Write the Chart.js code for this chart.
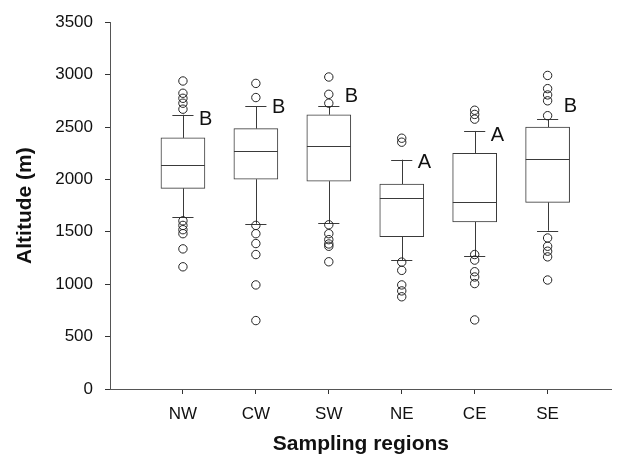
<!DOCTYPE html>
<html>
<head>
<meta charset="utf-8">
<script src="https://cdn.jsdelivr.net/npm/chart.js@4/dist/chart.umd.min.js"></script>
<style>
  html, body { margin: 0; padding: 0; background: #fff; }
  #wrap { width: 617px; height: 457px; }
</style>
</head>
<body>
<div id="wrap"><canvas id="box-chart" width="617" height="457"></canvas></div>
<script>
// Altitude by sampling region (box plot summary)
const regions = ['NW', 'CW', 'SW', 'NE', 'CE', 'SE'];
const lowerWhisker = [1640, 1577, 1583, 1230, 1268, 1510];
const q1 = [1915, 2002, 1983, 1454, 1595, 1781];
const median = [2141, 2267, 2321, 1822, 1781, 2191];
const q3 = [2396, 2485, 2617, 1955, 2248, 2500];
const upperWhisker = [2617, 2696, 2696, 2188, 2462, 2576];
const outliers = [
    [2939, 2822, 2774, 2727, 2670, 1605, 1561, 1520, 1482, 1337, 1166],
    [2916, 2781, 1561, 1482, 1388, 1283, 993, 653],
    [2977, 2812, 2727, 1567, 1482, 1425, 1384, 1362, 1214],
    [2393, 2355, 1211, 1132, 993, 936, 880],
    [2660, 2620, 2575, 1283, 1230, 1119, 1069, 1006, 659],
    [2992, 2866, 2806, 2750, 2608, 1441, 1362, 1315, 1261, 1040],
];
const groupLetters = ['B', 'B', 'B', 'A', 'A', 'B'];
const letterAltitude = [2573, 2686, 2790, 2157, 2421, 2691];
const yTicks = [0, 500, 1000, 1500, 2000, 2500, 3000, 3500];

(function () {
    const FONT = '"Liberation Sans", Arial, sans-serif';
    const ink = '#3a3a3a';
    const axisGray = '#555';
    const pos = regions.map((_, i) => i + 1);

    const boxData = pos.map((x, i) => ({ x: x, y: [q1[i], q3[i]] }));
    const outlierData = [];
    outliers.forEach((list, i) => list.forEach((v) => outlierData.push({ x: pos[i], y: v })));

    // whiskers + caps behind the boxes, medians and group letters on top
    const whiskerPlugin = {
        id: 'whiskers',
        beforeDatasetsDraw(chart) {
            const { ctx, scales: { x, y } } = chart;
            const capHalf = 0.145;
            ctx.save();
            ctx.strokeStyle = ink;
            ctx.lineWidth = 1;
            pos.forEach((p, i) => {
                const cx = Math.round(x.getPixelForValue(p)) + 0.5;
                const top = y.getPixelForValue(upperWhisker[i]);
                const bot = y.getPixelForValue(lowerWhisker[i]);
                ctx.beginPath();
                ctx.moveTo(cx, y.getPixelForValue(q3[i]));
                ctx.lineTo(cx, top);
                ctx.moveTo(cx, y.getPixelForValue(q1[i]));
                ctx.lineTo(cx, bot);
                const l = x.getPixelForValue(p - capHalf), r = x.getPixelForValue(p + capHalf);
                ctx.moveTo(l, Math.round(top) + 0.5);
                ctx.lineTo(r, Math.round(top) + 0.5);
                ctx.moveTo(l, Math.round(bot) + 0.5);
                ctx.lineTo(r, Math.round(bot) + 0.5);
                ctx.stroke();
            });
            ctx.restore();
        },
        afterDatasetsDraw(chart) {
            const { ctx, scales: { x, y } } = chart;
            ctx.save();
            ctx.strokeStyle = ink;
            ctx.lineWidth = 1;
            pos.forEach((p, i) => {
                const my = Math.round(y.getPixelForValue(median[i])) + 0.5;
                ctx.beginPath();
                ctx.moveTo(x.getPixelForValue(p - 0.3), my);
                ctx.lineTo(x.getPixelForValue(p + 0.3), my);
                ctx.stroke();
            });
            ctx.fillStyle = '#111';
            ctx.font = '20px ' + FONT;
            ctx.textAlign = 'left';
            ctx.textBaseline = 'middle';
            pos.forEach((p, i) => {
                ctx.fillText(groupLetters[i], x.getPixelForValue(p + 0.22), y.getPixelForValue(letterAltitude[i]));
            });
            ctx.restore();
        },
    };

    new Chart(document.getElementById('box-chart'), {
        type: 'bar',
        data: {
            datasets: [{
                label: 'box',
                data: boxData,
                backgroundColor: '#ffffff',
                borderColor: ink,
                borderWidth: 1,
                borderSkipped: false,
                barThickness: 44,
                grouped: false,
                order: 2,
            }, {
                type: 'scatter',
                label: 'outliers',
                data: outlierData,
                pointStyle: 'circle',
                pointRadius: 4.2,
                backgroundColor: 'rgba(0,0,0,0)',
                borderColor: '#222',
                borderWidth: 1,
                order: 1,
            }],
        },
        options: {
            responsive: false,
            animation: false,
            layout: { padding: { top: 19, right: 0, left: 0, bottom: 0 } },
            plugins: { legend: { display: false }, tooltip: { enabled: false } },
            scales: {
                x: {
                    type: 'linear',
                    min: 0,
                    max: 6.88,
                    offset: false,
                    border: { display: true, color: axisGray, width: 1 },
                    grid: { display: true, offset: false, drawOnChartArea: false, drawTicks: true, tickLength: 5, tickWidth: 1, tickColor: '#333' },
                    afterBuildTicks: (scale) => { scale.ticks = pos.map((v) => ({ value: v })); },
                    afterFit: (scale) => { scale.height = 68; },
                    ticks: {
                        maxRotation: 0,
                        autoSkip: false,
                        padding: 10,
                        color: '#111',
                        font: { family: FONT, size: 17 },
                        callback: (v) => regions[v - 1] || '',
                    },
                    title: {
                        display: true,
                        text: 'Sampling regions',
                        color: '#111',
                        font: { family: FONT, size: 21, weight: 'bold' },
                        padding: { top: 0, bottom: 0 },
                    },
                },
                y: {
                    min: 0,
                    max: 3500,
                    border: { display: true, color: axisGray, width: 1 },
                    grid: { display: true, drawOnChartArea: false, drawTicks: true, tickLength: 5, tickColor: '#333' },
                    afterBuildTicks: (scale) => { scale.ticks = yTicks.map((v) => ({ value: v })); },
                    afterFit: (scale) => { scale.width = 110; },
                    ticks: {
                        padding: 12,
                        color: '#111',
                        font: { family: FONT, size: 17 },
                        callback: (v) => String(v),
                    },
                    title: {
                        display: true,
                        text: 'Altitude (m)',
                        color: '#111',
                        font: { family: FONT, size: 21, weight: 'bold' },
                        padding: { top: 13, bottom: 0 },
                    },
                },
            },
        },
        plugins: [whiskerPlugin],
    });
})();
</script>
</body>
</html>
